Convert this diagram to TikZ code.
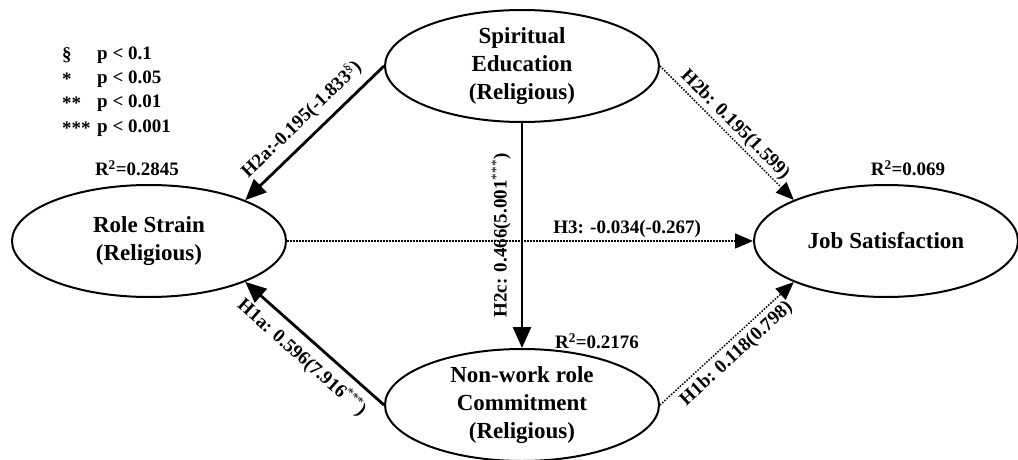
\documentclass[tikz,border=0pt]{standalone}
\usepackage{fontspec}
\setmainfont{Liberation Serif}
\usetikzlibrary{shapes.geometric,positioning,arrows.meta}

\tikzset{
  construct/.style={ellipse, draw, line width=2pt, minimum width=274pt, minimum height=112pt,
    inner sep=0pt, align=center, on grid, font=\fontsize{23}{28}\selectfont\bfseries},
  coef/.style={font=\fontsize{19}{21}\selectfont\bfseries, inner sep=3pt},
  strong/.style={line width=2.8pt, >={Triangle[length=21pt,width=18pt]}},
  weak/.style={line width=1.5pt, dash pattern=on 1.5pt off 1.5pt, >={Triangle[length=18pt,width=15pt]}},
}
\newcommand{\sig}[1]{\textsuperscript{\mdseries #1}}

\begin{document}
\begin{tikzpicture}[x=1pt,y=-1pt,node distance=1pt,auto]
            \useasboundingbox (0,0) rectangle (1018,460);
            \node[construct](se) at (522,66){Spiritual\\Education\\(Religious)};
            \node[construct, below left=175pt and 373pt of se](rs){Role Strain\\(Religious)};
            \node[construct, below=339pt of se](nw){Non-work role\\Commitment\\(Religious)};
            \node[construct, minimum width=264pt, right=737pt of rs](js){Job Satisfaction};
            % R squared
            \node[coef](r2rs) at (137,168){R\textsuperscript{2}=0.2845};
            \node[coef](r2js) at (908,168){R\textsuperscript{2}=0.069};
            \node[coef](r2nw) at (597,341){R\textsuperscript{2}=0.2176};
            % significance levels
            \foreach \sym/\pv [count=\i] in {\S/0.1, */0.05, **/0.01, ***/0.001}{
              \node[coef, anchor=west](sym\i) at (59,{55+24.3*(\i-1)}){\sym};
              \node[coef, anchor=west](pv\i) at (94,{55+24.3*(\i-1)}){p < \pv};
            }
            \path[strong,<-]
            (rs.23) edge node[coef, sloped, above, inner sep=8pt] {H2a:-0.195(-1.833\sig{\S})} (se.west)
            (rs.-23) edge node[coef, sloped, below, inner sep=8pt] {H1a: 0.596(7.916\sig{***})} (nw.west)
            (nw.north) edge node[coef, sloped, above, inner sep=10pt] {H2c: 0.466(5.001\sig{***})} (se.south);
            \path[weak,->]
            (se.east) edge node[coef, sloped, above, inner sep=2pt] {H2b: 0.195(1.599)} (js.156)
            (nw.east) edge node[coef, sloped, below, inner sep=5pt] {H1b: 0.118(0.798)} (js.204)
            (rs.east) edge node[coef, pos=.73] {H3: -0.034(-0.267)} (js.west);
        \end{tikzpicture}
\end{document}
